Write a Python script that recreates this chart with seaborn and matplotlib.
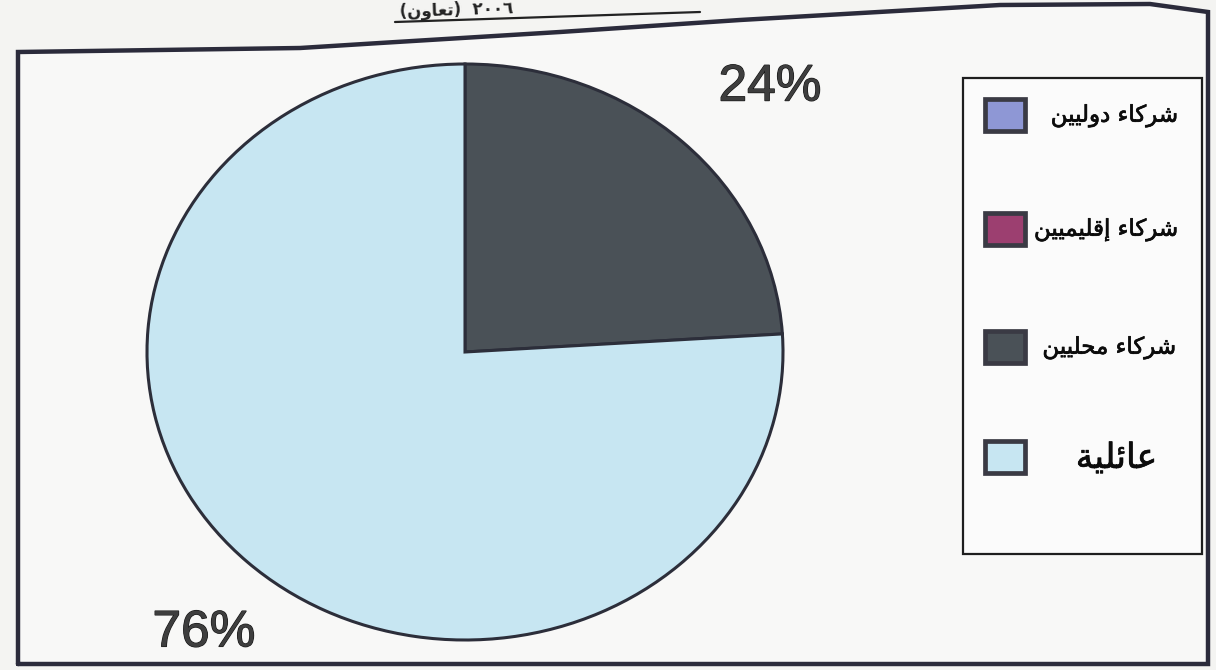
import matplotlib
matplotlib.use("Agg")
import matplotlib.pyplot as plt
import matplotlib.patheffects as pe
import matplotlib.transforms as mtransforms
from matplotlib.patches import Rectangle
import seaborn as sns

# ---- data -------------------------------------------------------------
categories = ["شركاء دوليين", "شركاء إقليميين", "شركاء محليين", "عائلية"]
shares = [0, 0, 24, 76]                      # percent of establishments
slice_colors = ["#8e97d5", "#9c3f70", "#4a5157", "#c7e6f2"]
title_word = "تعاون"
title_year = "٢٠٠٦"

# ---- Arabic shaping (matplotlib draws glyphs left-to-right, unjoined) --
FORMS = {
    "ء": (0xFE80, None, None, None),
    "آ": (0xFE81, 0xFE82, None, None),
    "أ": (0xFE83, 0xFE84, None, None),
    "ؤ": (0xFE85, 0xFE86, None, None),
    "إ": (0xFE87, 0xFE88, None, None),
    "ئ": (0xFE89, 0xFE8A, 0xFE8B, 0xFE8C),
    "ا": (0xFE8D, 0xFE8E, None, None),
    "ب": (0xFE8F, 0xFE90, 0xFE91, 0xFE92),
    "ة": (0xFE93, 0xFE94, None, None),
    "ت": (0xFE95, 0xFE96, 0xFE97, 0xFE98),
    "ث": (0xFE99, 0xFE9A, 0xFE9B, 0xFE9C),
    "ج": (0xFE9D, 0xFE9E, 0xFE9F, 0xFEA0),
    "ح": (0xFEA1, 0xFEA2, 0xFEA3, 0xFEA4),
    "خ": (0xFEA5, 0xFEA6, 0xFEA7, 0xFEA8),
    "د": (0xFEA9, 0xFEAA, None, None),
    "ذ": (0xFEAB, 0xFEAC, None, None),
    "ر": (0xFEAD, 0xFEAE, None, None),
    "ز": (0xFEAF, 0xFEB0, None, None),
    "س": (0xFEB1, 0xFEB2, 0xFEB3, 0xFEB4),
    "ش": (0xFEB5, 0xFEB6, 0xFEB7, 0xFEB8),
    "ص": (0xFEB9, 0xFEBA, 0xFEBB, 0xFEBC),
    "ض": (0xFEBD, 0xFEBE, 0xFEBF, 0xFEC0),
    "ط": (0xFEC1, 0xFEC2, 0xFEC3, 0xFEC4),
    "ظ": (0xFEC5, 0xFEC6, 0xFEC7, 0xFEC8),
    "ع": (0xFEC9, 0xFECA, 0xFECB, 0xFECC),
    "غ": (0xFECD, 0xFECE, 0xFECF, 0xFED0),
    "ف": (0xFED1, 0xFED2, 0xFED3, 0xFED4),
    "ق": (0xFED5, 0xFED6, 0xFED7, 0xFED8),
    "ك": (0xFED9, 0xFEDA, 0xFEDB, 0xFEDC),
    "ل": (0xFEDD, 0xFEDE, 0xFEDF, 0xFEE0),
    "م": (0xFEE1, 0xFEE2, 0xFEE3, 0xFEE4),
    "ن": (0xFEE5, 0xFEE6, 0xFEE7, 0xFEE8),
    "ه": (0xFEE9, 0xFEEA, 0xFEEB, 0xFEEC),
    "و": (0xFEED, 0xFEEE, None, None),
    "ى": (0xFEEF, 0xFEF0, None, None),
    "ي": (0xFEF1, 0xFEF2, 0xFEF3, 0xFEF4),
}


def _joins(c):
    return c in FORMS and c != "ء"


def _dual(c):
    return c in FORMS and FORMS[c][2] is not None


def shape(text):
    out = []
    for i, c in enumerate(text):
        if c not in FORMS:
            out.append(c)
            continue
        prev = text[i - 1] if i > 0 else ""
        nxt = text[i + 1] if i + 1 < len(text) else ""
        link_prev = _dual(prev) and _joins(c)
        link_next = _dual(c) and _joins(nxt)
        iso, fin, ini, med = FORMS[c]
        if link_prev and link_next:
            g = med
        elif link_prev:
            g = fin
        elif link_next:
            g = ini
        else:
            g = iso
        out.append(chr(g))
    return "".join(reversed(out))


# ---- style --------------------------------------------------------------
sns.set_theme(style="white")
plt.rcParams["font.family"] = ["DejaVu Sans"]
paper = "#f4f4f2"

fig = plt.figure(figsize=(12.16, 6.70), dpi=100, facecolor=paper)

# full-figure pixel canvas for the frame, title and key
bg = fig.add_axes([0, 0, 1, 1], zorder=0)
bg.set_xlim(0, 1216)
bg.set_ylim(670, 0)
bg.axis("off")
bg.set_facecolor(paper)

# skewed outer frame of the chart area
fx = [18, 18, 300, 380, 560, 740, 1000, 1150, 1208, 1208, 18]
fy = [664, 52, 48, 43, 32, 20, 5, 4, 12, 664, 664]
bg.fill(fx, fy, color="#f8f8f7", zorder=0)
bg.plot(fx, fy, color="#2b2b3b", lw=3.2, solid_joinstyle="miter", zorder=1)

# underlined heading along the top edge
heading = "(" + shape(title_word) + ")" + "  " + title_year
bg.text(400, 17, heading, fontsize=12, fontweight="bold", color="#222",
        ha="left", va="baseline", rotation=1.9, rotation_mode="anchor")
bg.plot([395, 700], [22, 12], color="#222", lw=1.6)

# ---- pie ------------------------------------------------------------------
cx, cy, rx, ry = 465, 352, 318, 288
ax = fig.add_axes([(cx - rx) / 1216, (670 - cy - ry) / 670,
                   2 * rx / 1216, 2 * ry / 670], zorder=2)
pct_labels = [f"{v}%" if v > 0 else "" for v in shares]
wedges, texts = ax.pie(
    shares,
    colors=slice_colors,
    startangle=90,
    counterclock=False,
    labels=pct_labels,
    labeldistance=1.3,
    wedgeprops=dict(edgecolor="#2c2e3a", linewidth=2.2),
    textprops=dict(fontsize=37, color="#3e3e3e", family="Liberation Sans"),
)
nudge = mtransforms.ScaledTranslation(22 / 100, -8 / 100, fig.dpi_scale_trans)
for t in texts:
    t.set_ha("center")
    t.set_transform(t.get_transform() + nudge)
    t.set_path_effects([pe.withStroke(linewidth=0.9, foreground="#161616")])
ax.set_aspect("auto")
ax.set_xlim(-1, 1)
ax.set_ylim(-1, 1)
ax.axis("off")

# ---- key ------------------------------------------------------------------
bg.add_patch(Rectangle((963, 78), 239, 476, facecolor="#fbfbfb",
                       edgecolor="#1e1e1e", lw=1.6, zorder=2))
row_y = [115, 229, 347, 457]
label_sizes = [16.5, 16.5, 16.5, 25]
label_right = [1178, 1178, 1176, 1157]
for name, col, y, fs, xr in zip(categories, slice_colors, row_y,
                                label_sizes, label_right):
    bg.add_patch(Rectangle((985, y - 16), 40, 32, facecolor=col,
                           edgecolor="#3a3a44", lw=3.4, zorder=3))
    bg.text(xr, y + 1, shape(name), fontsize=fs, color="#0c0c0c",
            ha="right", va="center", zorder=4,
            path_effects=[pe.withStroke(linewidth=0.5, foreground="#0c0c0c")])

fig.savefig("out.png", dpi=100, facecolor=paper)
